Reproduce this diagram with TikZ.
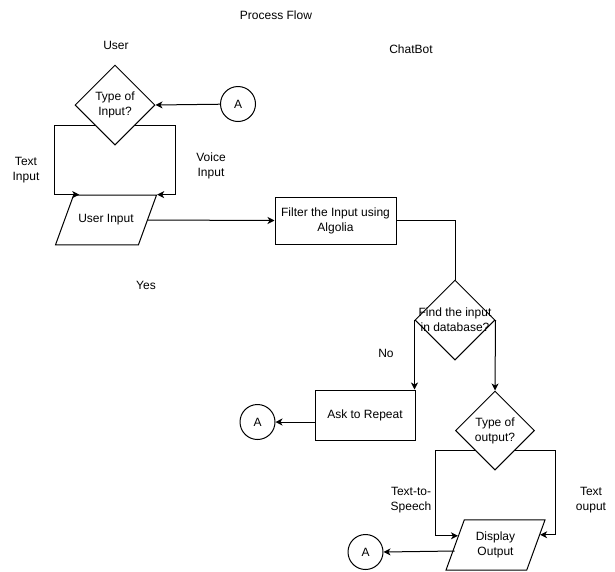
\documentclass[tikz,border=0pt]{standalone}
\usepackage{fontspec}
\setmainfont{Liberation Sans}
\usetikzlibrary{shapes.geometric}
\usetikzlibrary{arrows.meta}
\usetikzlibrary{calc}

\begin{document}
\begin{tikzpicture}[
    x=1pt, y=-1pt, line width=1pt,
    every node/.style = {font=\fontsize{12}{15}\selectfont, align=center},
    box/.style = {draw, rectangle, minimum width=#1, minimum height=47pt,
                inner sep=0pt},
    box/.default = 121pt,
    decision/.style = {draw, diamond, fill=white, aspect=1,
                minimum size=80pt, inner sep=0pt},
    io/.style = {draw, trapezium, trapezium left angle=70,
                trapezium right angle=110, trapezium stretches body=true,
                minimum width=101pt, inner xsep=0pt, inner ysep=#1},
    io/.default = 19.5pt,  % gives a height of about 50pt
    conn/.style = {draw, circle, minimum size=#1, inner sep=0pt},
    conn/.default = 35pt,  % size of the off-page circle
    arr/.style = {-{Stealth[length=7pt, width=7pt, inset=2pt]}}
                    ]
    \def\dx{40}   % length of the side branches
    \useasboundingbox (0,0) rectangle (615,571);
    \node at (276,15) (title) {Process Flow};
    \node at (116,45) (user) {User};
    \node at (411,49) (bot) {ChatBot};
    \node[decision] at (115,105) (ti) {Type of\\Input?};
    \node[conn] at (238,104) (ca) {A};
    \node[io] at (106,220) (ui) {User Input};
    \node[box] at (335.5,220.5) (filt) {Filter the Input using\\Algolia};
    \node[decision, label={[align=center]center:Find the input\\in database?}] at (455,320) (find) {};
    \node[box=100pt, minimum height=50pt] at (365,415) (ask) {Ask to Repeat};
    \node[conn] at (257.5,422) (cb) {A};
    \node[decision, minimum size=79pt] at (495,430.5) (tout) {Type of\\output?};
    \node[io=12pt, minimum width=99pt] at (495.5,545) (disp) {Display\\Output};
    \node[conn] at (365.5,552) (cc) {A};
    % branch labels
    \node at (26,170) (tin) {Text\\Input};
    \node at (211,166) (vin) {Voice\\Input};
    \node at (146,285) (yes) {Yes};
    \node at (386,353) (no) {No};
    \node at (411,500) (tts) {Text-to-\\Speech};
    \node at (591,500) (txo) {Text\\ouput};
    \draw[arr] (ca) -- (ti.east);
    \draw[arr] ($(ti.west)!.5!(ti.south)$) -- ++(-\dx,0) |- ([xshift=6pt]ui.top left corner);
    \draw[arr] ($(ti.east)!.5!(ti.south)$) -- ++(\dx,0) |- (ui.top right corner);
    \draw[arr] (ui.east) -- (filt.west);
    \draw (filt.east) -| (find.north);
    \draw[arr] (find.west) -- (find.west |- ask.north);
    \draw[arr] (find.east) -- (tout.north);
    \draw[arr] ([yshift=-7pt]ask.west) -- (cb.east);
    \draw[arr] ($(tout.west)!.5!(tout.south)$) -- ++(-\dx,0) |- ($(disp.top left corner)!.32!(disp.bottom left corner)$);
    \draw[arr] ($(tout.east)!.5!(tout.south)$) -- ++(\dx,0) |- ($(disp.top right corner)!.3!(disp.bottom right corner)$);
    \draw[arr] ([yshift=-6pt]disp.west) -- (cc.east);
\end{tikzpicture}
\end{document}
